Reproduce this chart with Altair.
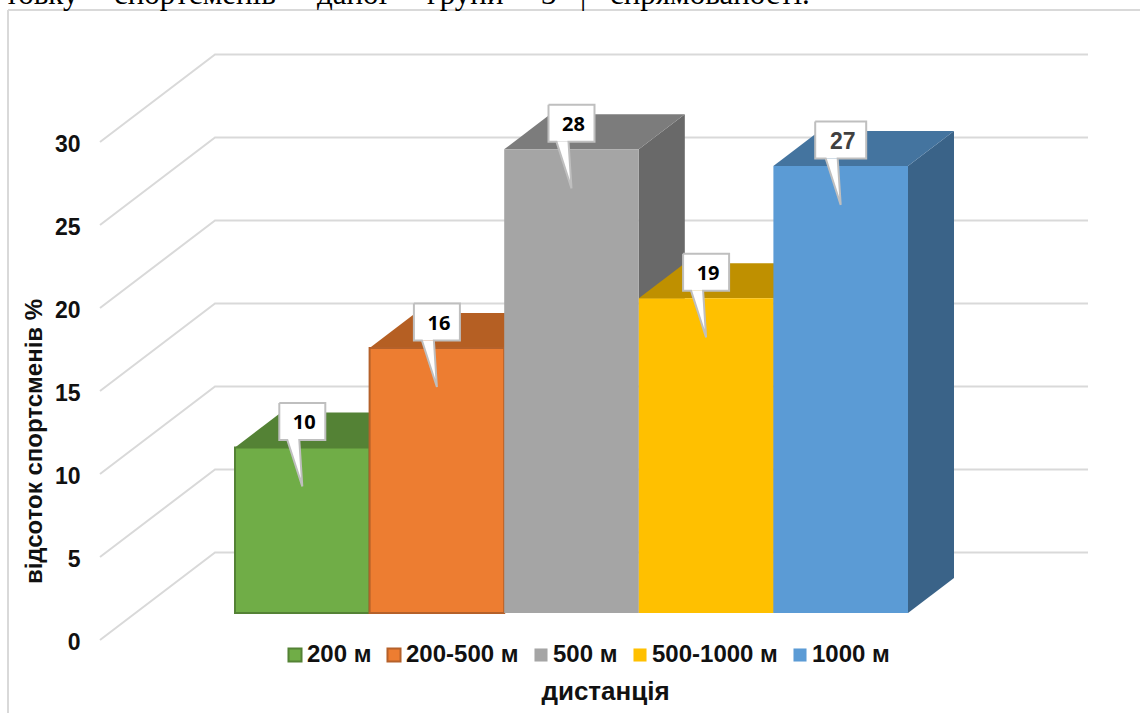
import altair as alt
import pandas as pd

# Share of athletes by competition distance
CATEGORIES = ["200 м", "200-500 м", "500 м", "500-1000 м", "1000 м"]
VALUES = [10, 16, 28, 19, 27]
FRONT = ["#70AD47", "#ED7D31", "#A5A5A5", "#FFC000", "#5B9BD5"]
EDGE = ["#548235", "#B5612A", "transparent", "transparent", "transparent"]
TOP = ["#548235", "#B55F23", "#7C7C7C", "#BF9000", "#44749F"]
SIDE = ["#476F2D", "#97501E", "#696969", "#A37A00", "#3A6388"]
GRID_LEVELS = [0, 5, 10, 15, 20, 25, 30]
HEADER_WORDS = [("товку", 5), ("спортсменів", 114), ("даної", 317), ("групи", 427),
                ("3", 541), ("|", 580), ("спрямованості.", 610)]

PLOT_LEFT = 90
PLOT_W, PLOT_H = 1050, 713
BAR_PX = 134.6      # pixels per bar slot along x
UNIT_PX = 16.56     # pixels per percent on the bar plane
GRID_UNIT_PX = 16.6 # pixels per percent on the front edge of the wall

def ux(px):
    return px / BAR_PX

def uy(px):
    return px / UNIT_PX

x_scale = alt.Scale(domain=[ux(PLOT_LEFT - 235), ux(1140 - 235)], nice=False, zero=False)
bar_scale = alt.Scale(domain=[uy(613 - PLOT_H), uy(613)], nice=False, zero=False)
grid_scale = alt.Scale(domain=[(640 - PLOT_H) / GRID_UNIT_PX, 640 / GRID_UNIT_PX], nice=False, zero=False)

DX, DY = ux(46), uy(35)

# Receding wall: diagonal on the side wall, then the horizontal on the back wall
grid_rows = []
wall_rise = 87.5 / GRID_UNIT_PX
for lv in GRID_LEVELS:
    grid_rows += [
        {"lv": lv, "x": ux(100 - 235), "y": lv},
        {"lv": lv, "x": ux(215 - 235), "y": lv + wall_rise},
        {"lv": lv, "x": ux(1088 - 235), "y": lv + wall_rise},
    ]
grid = alt.Chart(pd.DataFrame(grid_rows)).mark_line(color="#D9D9D9", strokeWidth=2).encode(
    x=alt.X("x:Q", scale=x_scale, axis=alt.Axis(
        title="дистанція", labels=False, ticks=False, domain=False, grid=False,
        titleFont="Liberation Sans", titleFontSize=26, titleFontWeight="bold", titleColor="#111111",
        titleX=605 - PLOT_LEFT, titleY=691 - PLOT_H, titleBaseline="middle", titleAnchor="middle", titleAlign="center")),
    y=alt.Y("y:Q", scale=grid_scale, axis=alt.Axis(
        orient="left", values=GRID_LEVELS, format="d", grid=False, ticks=False, domain=False,
        labelFont="Liberation Sans", labelFontSize=23, labelFontWeight="bold", labelColor="#111111", labelPadding=10,
        labelOffset=2,
        title="відсоток спортсменів %", titleFont="Liberation Sans", titleFontSize=24, titleFontWeight="bold",
        titleColor="#111111", titleX=34 - PLOT_LEFT, titleY=441, titleAngle=270, titleBaseline="middle", titleAnchor="middle", titleAlign="center")),
    detail="lv:N",
    order="x:Q",
)

def X(field="x"):
    return alt.X(f"{field}:Q", scale=x_scale, axis=None)

def Y(field="y"):
    return alt.Y(f"{field}:Q", scale=bar_scale, axis=None)

side_rows, top_rows, front_rows = [], [], []
for i, v in enumerate(VALUES):
    side_rows += [
        {"b": i, "x": i + 1, "y": v, "y2": 0, "c": SIDE[i]},
        {"b": i, "x": i + 1 + DX, "y": v + DY, "y2": DY, "c": SIDE[i]},
    ]
    top_rows += [
        {"b": i, "x": i, "y": v, "y2": v, "c": TOP[i]},
        {"b": i, "x": i + DX, "y": v + DY, "y2": v, "c": TOP[i]},
        {"b": i, "x": i + 1, "y": v + DY, "y2": v, "c": TOP[i]},
        {"b": i, "x": i + 1 + DX, "y": v + DY, "y2": v + DY, "c": TOP[i]},
    ]
    front_rows.append({"name": CATEGORIES[i], "x": i, "x2": i + 1, "y": v, "y2": 0})

sides = alt.Chart(pd.DataFrame(side_rows)).mark_area(orient="vertical").encode(
    x=X(), y=Y(), y2="y2:Q", detail="b:N",
    fill=alt.Fill("c:N", scale=None, legend=None))
tops = alt.Chart(pd.DataFrame(top_rows)).mark_area(orient="vertical").encode(
    x=X(), y=Y(), y2="y2:Q", detail="b:N",
    fill=alt.Fill("c:N", scale=None, legend=None))

legend = alt.Legend(
    orient="none", legendX=283 - PLOT_LEFT, legendY=643, direction="horizontal", columns=5, title=None,
    symbolType="square", symbolSize=170, symbolStrokeWidth=2, labelOffset=0, columnPadding=10, gridAlign="none",
    labelFont="Liberation Sans", labelFontSize=24, labelFontWeight="bold", labelColor="#111111", labelLimit=200)
fronts = alt.Chart(pd.DataFrame(front_rows)).mark_rect(strokeWidth=2).encode(
    x=X(), x2="x2:Q", y=Y(), y2="y2:Q",
    fill=alt.Fill("name:N", scale=alt.Scale(domain=CATEGORIES, range=FRONT), sort=CATEGORIES, legend=legend),
    stroke=alt.Stroke("name:N", scale=alt.Scale(domain=CATEGORIES, range=EDGE), sort=CATEGORIES, legend=legend))

# Speech-bubble data labels: a box above the bar and a pointer down into its face
box_rows, tail_rows, outline_rows, label_rows = [], [], [], []
for i, v in enumerate(VALUES):
    cx = i + 0.5
    half = ux(25.5) if v == 27 else ux(23)
    bottom = v + uy(7.5)
    top = bottom + uy(37)
    tip = v - uy(39)
    tl, tr = cx - ux(15), cx - ux(3)
    box_rows.append({"x": cx - half, "x2": cx + half, "y": top, "y2": bottom})
    tail_rows += [
        {"b": i, "x": tl, "y": bottom, "y2": bottom},
        {"b": i, "x": tr, "y": bottom, "y2": bottom - (bottom - tip) * 0.8},
        {"b": i, "x": cx, "y": tip, "y2": tip},
    ]
    path = [(cx - half, top), (cx + half, top), (cx + half, bottom), (tr, bottom),
            (cx, tip), (tl, bottom), (cx - half, bottom), (cx - half, top)]
    outline_rows += [{"b": i, "k": k, "x": px, "y": py} for k, (px, py) in enumerate(path)]
    label_rows.append({"x": cx, "y": (top + bottom) / 2, "t": str(v), "v": v})

boxes = alt.Chart(pd.DataFrame(box_rows)).mark_rect(fill="white").encode(x=X(), x2="x2:Q", y=Y(), y2="y2:Q")
tails = alt.Chart(pd.DataFrame(tail_rows)).mark_area(fill="white", orient="vertical").encode(
    x=X(), y=Y(), y2="y2:Q", detail="b:N")
outlines = alt.Chart(pd.DataFrame(outline_rows)).mark_line(color="#BFBFBF", strokeWidth=2).encode(
    x=X(), y=Y(), detail="b:N", order="k:Q")
labels_a = alt.Chart(pd.DataFrame(label_rows[:-1])).mark_text(
    font="Open Sans", fontSize=20, fontWeight="bold", color="#000000", baseline="middle", dx=2, dy=2).encode(
    x=X(), y=Y(), text="t:N")
labels_b = alt.Chart(pd.DataFrame(label_rows[-1:])).mark_text(
    font="Liberation Sans", fontSize=23, fontWeight="bold", color="#404040", baseline="middle", dx=2, dy=2).encode(
    x=X(), y=Y(), text="t:N")

# Frame of the embedded chart and the line of body text above it
one = pd.DataFrame({"a": [0]})
frame_left = alt.Chart(one).mark_rule(color="#D9D9D9", strokeWidth=2).encode(
    x=alt.value(8 - PLOT_LEFT), y=alt.value(10), y2=alt.value(PLOT_H))
frame_top = alt.Chart(one).mark_rule(color="#D9D9D9", strokeWidth=2).encode(
    x=alt.value(8 - PLOT_LEFT), x2=alt.value(PLOT_W), y=alt.value(10))
header = [
    alt.Chart(pd.DataFrame({"t": [w]})).mark_text(
        font="Liberation Serif", fontSize=31, color="#000000", align="left", baseline="alphabetic").encode(
        x=alt.value(px - PLOT_LEFT), y=alt.value(4), text="t:N")
    for w, px in HEADER_WORDS
]

chart = alt.layer(
    grid, sides, tops, fronts, boxes, tails, outlines, labels_a, labels_b, frame_left, frame_top, *header
).resolve_scale(y="independent", fill="independent", stroke="independent").resolve_axis(
    x="independent", y="independent").properties(
    width=PLOT_W, height=PLOT_H,
    padding={"left": PLOT_LEFT, "top": 0, "right": 0, "bottom": 0},
    autosize=alt.AutoSizeParams(type="none"),
    background="white",
).configure_view(stroke=None)

chart.save("out.html", embed_options={"renderer": "svg", "actions": False})
